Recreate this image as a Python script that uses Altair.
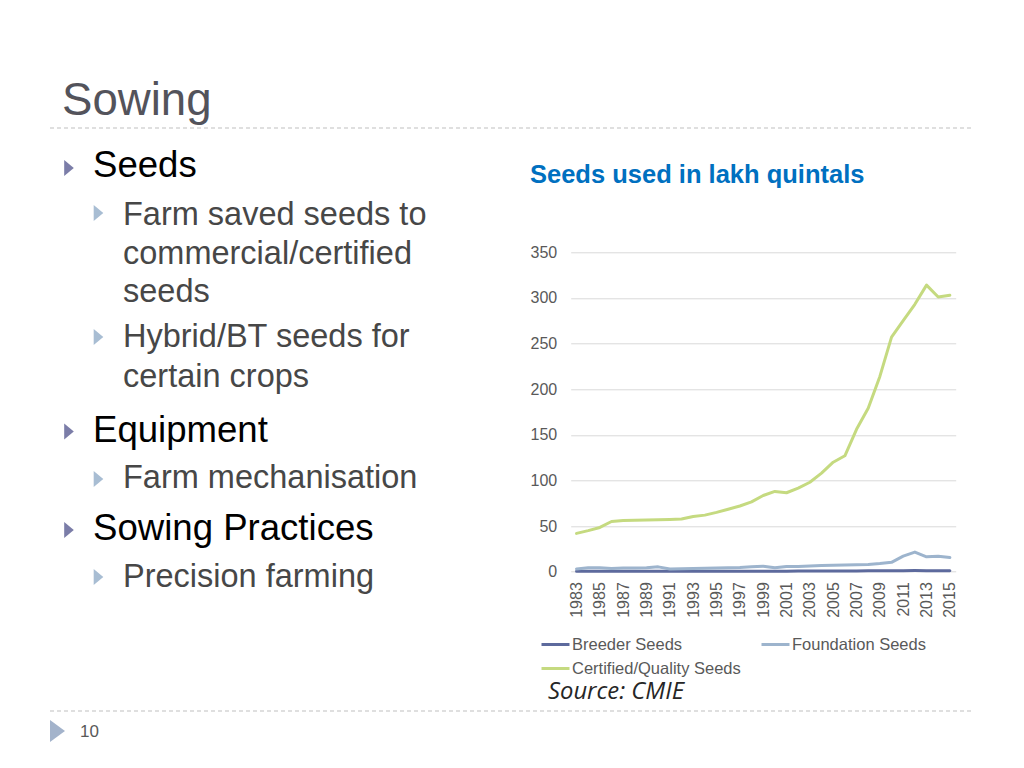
import altair as alt
import pandas as pd

# ---------------- data ----------------
years = list(range(1983, 2016))
breeder = [0.4, 0.4, 0.4, 0.4, 0.4, 0.4, 0.4, 0.4, 0.45, 0.45, 0.45, 0.5, 0.5, 0.5, 0.5, 0.55,
           0.6, 0.6, 0.6, 0.65, 0.7, 0.75, 0.8, 0.85, 0.9, 0.95, 1.0, 1.05, 1.1, 1.2, 1.15, 1.05, 1.0]
foundation = [3.0, 4.3, 4.3, 3.5, 4.0, 4.0, 4.3, 5.3, 3.0, 3.3, 3.6, 3.7, 4.0, 4.3, 4.7, 5.5,
              6.0, 4.3, 5.8, 5.6, 6.3, 6.8, 7.0, 7.3, 7.7, 8.0, 9.0, 10.3, 17.0, 21.5, 16.3, 17.0, 15.5]
certified = [42, 45, 48.5, 55, 56, 56.3, 56.7, 57, 57.3, 57.8, 60.5, 62, 65, 68.5, 72, 76.5,
             83.5, 88, 86.5, 91.5, 98, 108, 120, 127, 156, 179, 214, 257, 275, 293, 314, 301, 303]
series_names = ["Breeder Seeds", "Foundation Seeds", "Certified/Quality Seeds"]
series_colors = ["#5D6A9D", "#9DB4CD", "#C5DA80"]
y_ticks = [0, 50, 100, 150, 200, 250, 300, 350]
x_label_years = years[::2]

chart_title = "Seeds used in lakh quintals"
slide_title = "Sowing"
main_bullets = ["Seeds", "Equipment", "Sowing Practices"]
sub_bullets = ["Farm saved seeds to", "commercial/certified", "seeds",
               "Hybrid/BT seeds for", "certain crops", "Farm mechanisation", "Precision farming"]
source_text = "Source: CMIE"
page_number = "10"

df = pd.DataFrame({
    "year": years * 3,
    "value": breeder + foundation + certified,
    "series": [n for n in series_names for _ in years],
})

# ---------------- layout ----------------
OX, OY = 570.7, 252.3   # page position of the plot origin
W, H = 385, 319.4
FONT = "Liberation Sans"


def one():
    return pd.DataFrame({"k": [0]})


def txt(s, x, y, size, color, weight="normal", style="normal", font=FONT):
    return alt.Chart(pd.DataFrame({"t": [s]})).mark_text(
        align="left", baseline="alphabetic", font=font, fontSize=size,
        color=color, fontWeight=weight, fontStyle=style
    ).encode(x=alt.value(x - OX), y=alt.value(y - OY), text="t:N")


def tri(x, y, size, color, path):
    return alt.Chart(one()).mark_point(
        shape=path, filled=True, size=size, color=color, opacity=1, strokeWidth=0
    ).encode(x=alt.value(x - OX), y=alt.value(y - OY))


def dashed(y):
    return alt.Chart(one()).mark_rule(
        color="#BFBFBF", strokeDash=[4, 3], strokeWidth=1
    ).encode(x=alt.value(50 - OX), x2=alt.value(972 - OX), y=alt.value(y - OY))


lines = alt.Chart(df).mark_line(strokeWidth=3, strokeCap="round", strokeJoin="round").encode(
    x=alt.X("year:O", title=None,
            scale=alt.Scale(type="point", padding=0.5),
            axis=alt.Axis(values=x_label_years, labelAngle=-90, labelAlign="right",
                          labelBaseline="middle", labelPadding=10, labelFontSize=16,
                          labelColor="#595959", labelFont=FONT, ticks=False,
                          domain=False, grid=False)),
    y=alt.Y("value:Q", title=None,
            scale=alt.Scale(domain=[0, 350], nice=False, zero=True),
            axis=alt.Axis(values=y_ticks, labelFontSize=16, labelColor="#595959",
                          labelFont=FONT, labelPadding=14, ticks=False, domain=False,
                          grid=True, gridColor="#D9D9D9", gridWidth=1)),
    color=alt.Color("series:N",
                    scale=alt.Scale(domain=series_names, range=series_colors),
                    legend=alt.Legend(orient="none", legendX=540 - OX, legendY=629 - OY,
                                      direction="horizontal",
                                      columns=2, symbolType="stroke", symbolSize=784,
                                      symbolStrokeWidth=3, labelFontSize=16.5, labelFont=FONT,
                                      labelColor="#595959", labelOffset=1,
                                      columnPadding=14, rowPadding=-3, title=None,
                                      labelLimit=300)),
)

TRI = "M-0.6,-1L0.6,0L-0.6,1Z"
TRI2 = "M-0.68,-1L0.68,0L-0.68,1Z"
MAIN_C = "#7B7DA8"
SUB_C = "#A8BDD3"
SUB_T = "#474747"
MAIN_S = 36.6
SUB_S = 32.5

layers = [
    dashed(128),
    dashed(711),
    txt(slide_title, 62, 115, 45.6, "#53535B"),
    # main bullets
    tri(69, 168, 256, MAIN_C, TRI),
    txt(main_bullets[0], 93, 177, MAIN_S, "#000000"),
    tri(69, 431.5, 256, MAIN_C, TRI),
    txt(main_bullets[1], 93, 441.5, MAIN_S, "#000000"),
    tri(69, 530, 256, MAIN_C, TRI),
    txt(main_bullets[2], 93, 540, MAIN_S, "#000000"),
    # sub bullets
    tri(98.5, 213, 256, SUB_C, TRI),
    txt(sub_bullets[0], 123, 225, SUB_S, SUB_T),
    txt(sub_bullets[1], 123, 264, SUB_S, SUB_T),
    txt(sub_bullets[2], 123, 302, SUB_S, SUB_T),
    tri(98.5, 337, 256, SUB_C, TRI),
    txt(sub_bullets[3], 123, 347, SUB_S, SUB_T),
    txt(sub_bullets[4], 123, 387, SUB_S, SUB_T),
    tri(98.5, 479, 256, SUB_C, TRI),
    txt(sub_bullets[5], 123, 488, SUB_S, SUB_T),
    tri(98.5, 577, 256, SUB_C, TRI),
    txt(sub_bullets[6], 123, 587, SUB_S, SUB_T),
    # chart title & source
    txt(chart_title, 530, 183.3, 25.5, "#0070C0", weight="bold"),
    txt(source_text, 548, 699, 23.8, "#262626", style="italic", font="Open Sans"),
    # page number
    tri(57.5, 731, 484, "#A3B3CB", TRI2),
    txt(page_number, 80, 737, 17, "#595959"),
    lines,
]

chart = alt.layer(*layers).properties(
    width=W, height=H,
    autosize=alt.AutoSizeParams(type="none"),
    padding={"left": OX - 8, "top": OY - 8, "right": 1008 - (OX - 8) - W,
             "bottom": 752 - (OY - 8) - H},
    background="white",
).configure_view(stroke=None)

chart.save("out.html", embed_options={"renderer": "svg", "actions": False})
